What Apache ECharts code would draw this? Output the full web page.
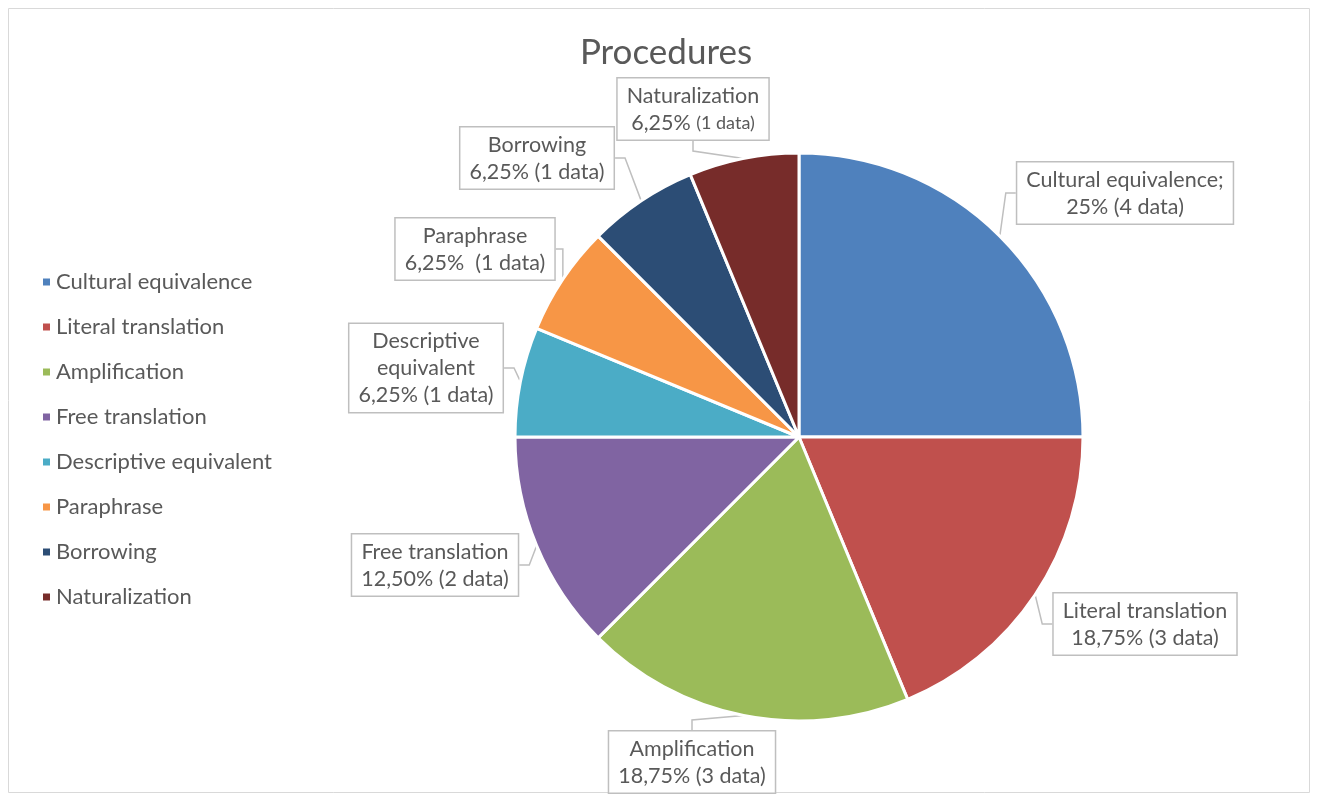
<!DOCTYPE html>
<html><head><meta charset="utf-8">
<script src="https://cdn.jsdelivr.net/npm/echarts@6/dist/echarts.min.js"></script>
<style>html,body{margin:0;padding:0;background:#fff}#c{width:1317px;height:799px}</style>
</head><body><div id="c"></div>
<script>
const categories = ['Cultural equivalence','Literal translation','Amplification','Free translation','Descriptive equivalent','Paraphrase','Borrowing','Naturalization'];
const values = [4,3,3,2,1,1,1,1];
const colors = ['#4F81BD','#C0504D','#9BBB59','#8064A2','#4BACC6','#F79646','#2C4D75','#772C2A'];
const labelTexts = [
  'Cultural equivalence;\n25% (4 data)',
  'Literal translation\n18,75% (3 data)',
  'Amplification\n18,75% (3 data)',
  'Free translation\n12,50% (2 data)',
  'Descriptive\nequivalent\n6,25% (1 data)',
  'Paraphrase\n6,25%  (1 data)',
  'Borrowing\n6,25% (1 data)',
  'Naturalization\n6,25% {s|(1 data)}'
];
// label box centres (layout only)
const labelPos = [[1125,193],[1145,624],[692,762],[435,565],[426,368],[475,249],[537,158],[693,109]];

const chart = echarts.init(document.getElementById('c'));
const FONT = 'Lato, "Open Sans", sans-serif';
chart.setOption({
  animation:false,
  color: colors,
  title:{text:'Procedures',left:661,top:30,textAlign:'center',
    textStyle:{fontFamily:FONT,fontSize:35,fontWeight:'normal',color:'#595959'}},
  graphic:[{type:'rect',shape:{x:8.5,y:8.5,width:1301,height:784},style:{fill:'none',stroke:'#D9D9D9',lineWidth:1},silent:true}],
  legend:{orient:'vertical',left:36,top:266,itemWidth:9,itemHeight:9,itemGap:23,icon:'rect',
    textStyle:{fontFamily:FONT,fontSize:22,color:'#595959',lineHeight:22,padding:[0,0,0,0]},
    data:categories},
  series:[{
    type:'pie',center:[799,437],radius:284,startAngle:90,clockwise:true,
    itemStyle:{borderColor:'#fff',borderWidth:3},
    data: categories.map((n,i)=>({name:n,value:values[i],
      label:{formatter:labelTexts[i]}})),
    label:{show:true,position:'outside',fontFamily:FONT,fontSize:21.5,color:'#595959',lineHeight:27,
      align:'center',backgroundColor:'#fff',borderColor:'#BFBFBF',borderWidth:1.5,padding:[4,9,3,9],
      rich:{s:{fontFamily:FONT,fontSize:18,color:'#595959'}}},
    labelLine:{show:true,length:10,length2:10,lineStyle:{color:'#BFBFBF',width:1.5}},
    labelLayout:function(p){
      const q = labelPos[p.dataIndex];
      return {x:q[0],y:q[1],align:'center',verticalAlign:'middle'};
    }
  }]
});
</script></body></html>
